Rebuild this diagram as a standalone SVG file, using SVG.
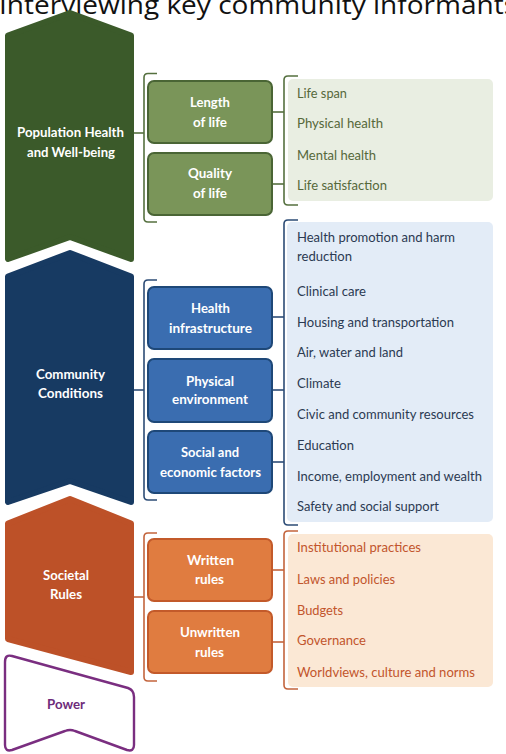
<svg xmlns="http://www.w3.org/2000/svg" width="506" height="754" viewBox="0 0 506 754">
<style>
.lbl{font-family:Lato,"Liberation Sans",sans-serif;font-weight:bold;font-size:14px;fill:#fff;text-anchor:middle}
.it{font-family:Lato,"Liberation Sans",sans-serif;font-size:14px}
.g{fill:#56683a}.b{fill:#2b3a52}.o{fill:#c2552c}
.brg{fill:none;stroke:#55703f;stroke-width:1.6}
.brb{fill:none;stroke:#2c4c76;stroke-width:1.6}
.bro{fill:none;stroke:#c3643c;stroke-width:1.6}
</style>
<rect width="506" height="754" fill="#fff"/>
<text x="-1" y="14" font-family="'Open Sans','Liberation Sans',sans-serif" font-size="26" fill="#111" textLength="518" lengthAdjust="spacingAndGlyphs">Interviewing key community informants</text>

<g id="chev-health">
<polygon points="70,13 131,35.5 131,259 70,237 8,259 8,35.5" fill="#3b5a2a" stroke="#3b5a2a" stroke-width="6" stroke-linejoin="round"/>
<text class="lbl" x="70.5" y="137" textLength="107" lengthAdjust="spacingAndGlyphs">Population Health</text>
<text class="lbl" x="71" y="157" textLength="88" lengthAdjust="spacingAndGlyphs">and Well-being</text>
</g>
<g id="chev-community">
<polygon points="70,253 131,276.5 131,502 70,481 8,502 8,276.5" fill="#173a62" stroke="#173a62" stroke-width="6" stroke-linejoin="round"/>
<text class="lbl" x="70.5" y="379" textLength="69" lengthAdjust="spacingAndGlyphs">Community</text>
<text class="lbl" x="70.5" y="398" textLength="65" lengthAdjust="spacingAndGlyphs">Conditions</text>
</g>
<g id="chev-rules">
<polygon points="70,499 131,523.5 131,672 8,639 8,523.5" fill="#bd5128" stroke="#bd5128" stroke-width="6" stroke-linejoin="round"/>
<text class="lbl" x="66" y="580" textLength="46" lengthAdjust="spacingAndGlyphs">Societal</text>
<text class="lbl" x="66" y="599" textLength="32" lengthAdjust="spacingAndGlyphs">Rules</text>
</g>
<g id="power">
<path d="M5,662 Q5,654 12,656 L128,688 Q134,690 134,697 L134,745 Q134,752 127,750 L75,731 Q70,729 65,731 L12,750 Q5,752 5,745 Z" fill="#fff" stroke="#7a2e80" stroke-width="2.4" stroke-linejoin="round"/>
<text class="lbl" x="66" y="709" textLength="38" lengthAdjust="spacingAndGlyphs" style="fill:#6e2b7a">Power</text>
</g>

<g id="connectors">
<line x1="134" y1="133" x2="144" y2="133" class="brg"/>
<path class="brg" d="M157,73.5 H148 Q144,73.5 144,77.5 V218 Q144,222 148,222 H157"/>
<line x1="272" y1="112" x2="284" y2="112" class="brg"/>
<line x1="272" y1="184" x2="284" y2="184" class="brg"/>
<path class="brg" d="M298,76 H288 Q284,76 284,80 V201 Q284,205 288,205 H298"/>

<line x1="134" y1="390" x2="144" y2="390" class="brb"/>
<path class="brb" d="M157,280 H148 Q144,280 144,284 V496 Q144,500 148,500 H157"/>
<line x1="272" y1="317" x2="284" y2="317" class="brb"/>
<line x1="272" y1="390" x2="284" y2="390" class="brb"/>
<line x1="272" y1="462" x2="284" y2="462" class="brb"/>
<path class="brb" d="M298,220 H288 Q284,220 284,224 V521 Q284,525 288,525 H298"/>

<line x1="134" y1="597" x2="144" y2="597" class="bro"/>
<path class="bro" d="M157,533 H148 Q144,533 144,537 V677 Q144,681 148,681 H157"/>
<line x1="272" y1="570" x2="284" y2="570" class="bro"/>
<line x1="272" y1="642" x2="284" y2="642" class="bro"/>
<path class="bro" d="M298,531 H288 Q284,531 284,535 V685 Q284,689 288,689 H298"/>
</g>

<g id="box-length">
<rect x="148" y="81" width="124" height="62" rx="6" fill="#7a9559" stroke="#4a6535" stroke-width="2"/>
<text class="lbl" x="210" y="107" textLength="40" lengthAdjust="spacingAndGlyphs">Length</text>
<text class="lbl" x="210" y="127" textLength="34" lengthAdjust="spacingAndGlyphs">of life</text>
</g>
<g id="box-quality">
<rect x="148" y="153" width="124" height="62" rx="6" fill="#7a9559" stroke="#4a6535" stroke-width="2"/>
<text class="lbl" x="210" y="178" textLength="44" lengthAdjust="spacingAndGlyphs">Quality</text>
<text class="lbl" x="210" y="198" textLength="34" lengthAdjust="spacingAndGlyphs">of life</text>
</g>
<g id="box-infra">
<rect x="148" y="287" width="124" height="62" rx="6" fill="#3a6db0" stroke="#1e4878" stroke-width="2"/>
<text class="lbl" x="210.5" y="313" textLength="39" lengthAdjust="spacingAndGlyphs">Health</text>
<text class="lbl" x="210.5" y="333" textLength="83" lengthAdjust="spacingAndGlyphs">infrastructure</text>
</g>
<g id="box-physical">
<rect x="148" y="359" width="124" height="63" rx="6" fill="#3a6db0" stroke="#1e4878" stroke-width="2"/>
<text class="lbl" x="210" y="386" textLength="48" lengthAdjust="spacingAndGlyphs">Physical</text>
<text class="lbl" x="210" y="404" textLength="76" lengthAdjust="spacingAndGlyphs">environment</text>
</g>
<g id="box-social">
<rect x="148" y="431" width="124" height="62" rx="6" fill="#3a6db0" stroke="#1e4878" stroke-width="2"/>
<text class="lbl" x="210" y="457" textLength="58" lengthAdjust="spacingAndGlyphs">Social and</text>
<text class="lbl" x="210.5" y="477" textLength="101" lengthAdjust="spacingAndGlyphs">economic factors</text>
</g>
<g id="box-written">
<rect x="148" y="539" width="124" height="62" rx="6" fill="#e07c40" stroke="#c35a2a" stroke-width="2"/>
<text class="lbl" x="210.5" y="565" textLength="47" lengthAdjust="spacingAndGlyphs">Written</text>
<text class="lbl" x="209.5" y="584" textLength="29" lengthAdjust="spacingAndGlyphs">rules</text>
</g>
<g id="box-unwritten">
<rect x="148" y="611" width="124" height="62" rx="6" fill="#e07c40" stroke="#c35a2a" stroke-width="2"/>
<text class="lbl" x="210" y="637" textLength="60" lengthAdjust="spacingAndGlyphs">Unwritten</text>
<text class="lbl" x="209.5" y="657" textLength="29" lengthAdjust="spacingAndGlyphs">rules</text>
</g>

<g id="list-health">
<rect x="288" y="79" width="205" height="122" rx="5" fill="#e9eee2"/>
<text class="it g" x="297" y="98" textLength="50" lengthAdjust="spacingAndGlyphs">Life span</text>
<text class="it g" x="297" y="128" textLength="86" lengthAdjust="spacingAndGlyphs">Physical health</text>
<text class="it g" x="297" y="160" textLength="79" lengthAdjust="spacingAndGlyphs">Mental health</text>
<text class="it g" x="297" y="190" textLength="90" lengthAdjust="spacingAndGlyphs">Life satisfaction</text>
</g>
<g id="list-community">
<rect x="287" y="222" width="206" height="300" rx="5" fill="#e3ecf7"/>
<text class="it b" x="297" y="242" textLength="158" lengthAdjust="spacingAndGlyphs">Health promotion and harm</text>
<text class="it b" x="297" y="261" textLength="55" lengthAdjust="spacingAndGlyphs">reduction</text>
<text class="it b" x="297" y="296" textLength="69" lengthAdjust="spacingAndGlyphs">Clinical care</text>
<text class="it b" x="297" y="327" textLength="157" lengthAdjust="spacingAndGlyphs">Housing and transportation</text>
<text class="it b" x="297" y="357" textLength="106" lengthAdjust="spacingAndGlyphs">Air, water and land</text>
<text class="it b" x="297" y="388" textLength="44" lengthAdjust="spacingAndGlyphs">Climate</text>
<text class="it b" x="297" y="419" textLength="177" lengthAdjust="spacingAndGlyphs">Civic and community resources</text>
<text class="it b" x="297" y="450" textLength="57" lengthAdjust="spacingAndGlyphs">Education</text>
<text class="it b" x="297" y="481" textLength="185" lengthAdjust="spacingAndGlyphs">Income, employment and wealth</text>
<text class="it b" x="297" y="511" textLength="142" lengthAdjust="spacingAndGlyphs">Safety and social support</text>
</g>
<g id="list-rules">
<rect x="288" y="534" width="205" height="153" rx="5" fill="#fbe8d5"/>
<text class="it o" x="297" y="552" textLength="124" lengthAdjust="spacingAndGlyphs">Institutional practices</text>
<text class="it o" x="297" y="584" textLength="98" lengthAdjust="spacingAndGlyphs">Laws and policies</text>
<text class="it o" x="297" y="615" textLength="46" lengthAdjust="spacingAndGlyphs">Budgets</text>
<text class="it o" x="297" y="645" textLength="69" lengthAdjust="spacingAndGlyphs">Governance</text>
<text class="it o" x="297" y="677" textLength="178" lengthAdjust="spacingAndGlyphs">Worldviews, culture and norms</text>
</g>
</svg>
